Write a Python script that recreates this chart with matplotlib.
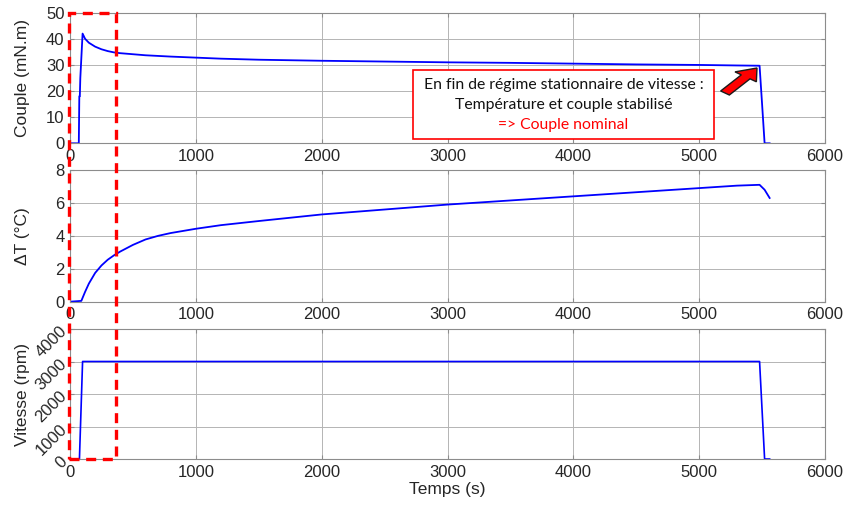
import matplotlib
matplotlib.use("Agg")
import matplotlib.pyplot as plt
from matplotlib.patches import Rectangle, FancyArrow
import numpy as np

plt.rcParams['font.family'] = ['Liberation Sans', 'DejaVu Sans']

# Torque (mN.m) vs time (s)
t_couple = [0, 70, 74, 78, 82, 100, 120, 150, 200, 250, 300, 350, 400, 500, 600, 800, 1000,
            1200, 1500, 2000, 2500, 3000, 3500, 4000, 4500, 5000, 5300, 5480, 5500, 5520, 5560]
couple = [0, 0, 18, 18, 25, 42, 40, 38.5, 37, 36, 35.3, 34.8, 34.5, 34.1, 33.7, 33.2, 32.8,
          32.4, 32.0, 31.6, 31.3, 31.0, 30.8, 30.5, 30.2, 30.0, 29.8, 29.7, 15, 0, 0]

# Temperature rise (°C) vs time (s)
t_temp = [0, 90, 120, 150, 200, 250, 300, 350, 400, 500, 600, 700, 800, 1000, 1200, 1500,
          2000, 2500, 3000, 3500, 4000, 4500, 5000, 5300, 5480, 5520, 5560]
delta_t = [0, 0.05, 0.6, 1.1, 1.75, 2.2, 2.55, 2.82, 3.05, 3.45, 3.78, 4.0, 4.17, 4.43, 4.65, 4.9,
           5.3, 5.6, 5.9, 6.15, 6.4, 6.65, 6.9, 7.05, 7.1, 6.8, 6.3]

# Speed (rpm) vs time (s)
t_speed = [0, 75, 100, 5480, 5520, 5560]
vitesse = [0, 0, 3000, 3000, 0, 0]

xticks = [0, 1000, 2000, 3000, 4000, 5000, 6000]

W, H = 843, 507
fig = plt.figure(figsize=(W / 100, H / 100), dpi=100)

left = 70 / W
width = (825 - 70) / W

def mk(top_px, bot_px):
    return fig.add_axes([left, 1 - bot_px / H, width, (bot_px - top_px) / H])

ax1 = mk(12.7, 143.3)
ax2 = mk(170, 301.7)
ax3 = mk(329, 459)

tick_col = '#262626'
for ax in (ax1, ax2, ax3):
    ax.set_xlim(0, 6000)
    ax.set_xticks(xticks)
    ax.grid(True, color='#b4b4b4', linewidth=0.7)
    ax.set_axisbelow(True)
    for s in ax.spines.values():
        s.set_color('#8c8c8c')
        s.set_linewidth(0.8)
    ax.tick_params(direction='in', length=3, colors='#8c8c8c', labelcolor=tick_col,
                   labelsize=12, top=True, right=True, pad=4)

ax1.plot(t_couple, couple, color='#0000ff', linewidth=1.3)
ax1.set_ylim(0, 50)
ax1.set_yticks([0, 10, 20, 30, 40, 50])
ax1.set_ylabel('Couple (mN.m)', fontsize=12.5, color=tick_col)

ax2.plot(t_temp, delta_t, color='#0000ff', linewidth=1.3)
ax2.set_ylim(0, 8)
ax2.set_yticks([0, 2, 4, 6, 8])
ax2.set_ylabel('ΔT (°C)', fontsize=12.5, color=tick_col)

ax3.plot(t_speed, vitesse, color='#0000ff', linewidth=1.2)
ax3.set_ylim(0, 4000)
ax3.set_yticks([0, 1000, 2000, 3000, 4000])
for lab in ax3.get_yticklabels():
    lab.set_rotation(45)
    lab.set_rotation_mode('anchor')
    lab.set_ha('right')
    lab.set_va('center')
ax3.set_ylabel('Vitesse (rpm)', fontsize=12.5, color=tick_col)
ax3.set_xlabel('Temps (s)', fontsize=12.5, color=tick_col, labelpad=2)

for ax in (ax1, ax2, ax3):
    ax.yaxis.set_label_coords(-40 / (825 - 70), 0.5)

# Red dashed box (figure pixel coords)
def fx(px):
    return px / W

def fy(py):
    return 1 - py / H

box = Rectangle((fx(69), fy(459)), fx(116) - fx(69), fy(12.5) - fy(459),
                transform=fig.transFigure, fill=False, edgecolor='#ff0000',
                linestyle=(0, (3, 2)), linewidth=2.4, zorder=10)
fig.add_artist(box)

# Annotation box
ann = Rectangle((fx(413), fy(139)), fx(714) - fx(413), fy(70) - fy(139),
                transform=fig.transFigure, facecolor='white', edgecolor='#ff0000',
                linewidth=1.2, zorder=11)
fig.add_artist(ann)
fam = ['Lato', 'DejaVu Sans']
fig.text(fx(563.5), fy(85), 'En fin de régime stationnaire de vitesse :', ha='center', va='center',
         fontsize=11.3, color='#111111', family=fam, zorder=12)
fig.text(fx(563.5), fy(104.5), 'Température et couple stabilisé', ha='center', va='center',
         fontsize=11.3, color='#111111', family=fam, zorder=12)
fig.text(fx(563.5), fy(125), '=> Couple nominal', ha='center', va='center',
         fontsize=11.3, color='#ff0000', family=fam, zorder=12)

# Red arrow
arr = FancyArrow(fx(725), fy(93), fx(757) - fx(725), fy(68) - fy(93),
                 width=0.013, head_width=0.032, head_length=0.022,
                 length_includes_head=True, transform=fig.transFigure,
                 facecolor='#ff0000', edgecolor='#1a1a1a', linewidth=1.0, zorder=12)
fig.add_artist(arr)

fig.savefig('out.png', dpi=100)
